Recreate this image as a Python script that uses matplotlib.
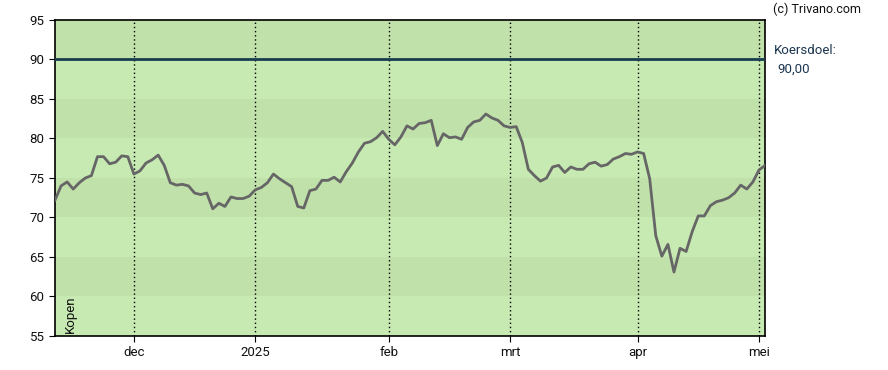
import pandas as pd
import matplotlib
matplotlib.use("Agg")
import matplotlib.pyplot as plt

plt.rcParams["font.family"] = ["Roboto", "DejaVu Sans"]

# trading days (Euronext style, closed on these days)
holidays = ["2024-12-25", "2024-12-26", "2025-01-01", "2025-04-18", "2025-04-21"]
dates = pd.bdate_range("2024-11-13", "2025-05-02", freq="C", holidays=holidays)

# closing prices, one per trading day
prices = [
    72.2, 74.0, 74.5, 73.6, 74.4, 75.0, 75.3, 77.7, 77.7, 76.8,
    77.0, 77.8, 77.7, 75.5, 75.9, 76.9, 77.3, 77.9, 76.6, 74.4,
    74.1, 74.2, 74.0, 73.1, 72.9, 73.1, 71.1, 71.8, 71.4, 72.6,
    72.4, 72.4, 72.7, 73.5, 73.8, 74.4, 75.5, 74.9, 74.4, 73.9,
    71.4, 71.2, 73.4, 73.6, 74.7, 74.7, 75.1, 74.5, 75.8, 76.9,
    78.3, 79.4, 79.6, 80.1, 80.9, 79.9, 79.2, 80.2, 81.6, 81.2,
    81.9, 82.0, 82.3, 79.1, 80.6, 80.1, 80.2, 79.9, 81.4, 82.1,
    82.3, 83.1, 82.6, 82.3, 81.6, 81.4, 81.5, 79.5, 76.1, 75.3,
    74.6, 75.0, 76.4, 76.6, 75.7, 76.4, 76.1, 76.1, 76.8, 77.0,
    76.5, 76.7, 77.4, 77.7, 78.1, 78.0, 78.3, 78.1, 74.9, 67.7,
    65.1, 66.6, 63.1, 66.1, 65.7, 68.2, 70.2, 70.2, 71.5, 72.0,
    72.2, 72.5, 73.1, 74.1, 73.6, 74.5, 76.0, 76.6,
]

target = 90.0
month_names = {12: "dec", 1: "2025", 2: "feb", 3: "mrt", 4: "apr", 5: "mei"}
yticks = [55, 60, 65, 70, 75, 80, 85, 90, 95]

band_dark = "#c0e1aa"
band_light = "#c6eab2"

fig = plt.figure(figsize=(8.88, 3.70), dpi=100)
ax = fig.add_axes([55 / 888, 34 / 370, 710 / 888, 316 / 370])

# alternating horizontal bands
for i, lo in enumerate(range(55, 95, 5)):
    ax.axhspan(lo, lo + 5, color=band_light if i % 2 == 0 else band_dark, lw=0, zorder=0)

# month ticks at first trading day of each month
tick_pos, tick_lab = [], []
for i in range(1, len(dates)):
    if dates[i].month != dates[i - 1].month:
        tick_pos.append(i)
        tick_lab.append(month_names[dates[i].month])

for p in tick_pos:
    ax.axvline(p, color="black", lw=1, ls=(0, (1, 2)), zorder=1)

x = list(range(len(prices)))
ax.plot(x, prices, color="#666666", lw=2, zorder=3)
ax.axhline(target, color="#173d50", lw=2, zorder=4)

ax.set_xlim(0, len(prices) - 1)
ax.set_ylim(55, 95)
ax.set_xticks(tick_pos)
ax.set_xticklabels(tick_lab)
ax.set_yticks(yticks)
ax.tick_params(axis="both", labelsize=9.5, length=4, color="black", labelcolor="#111111")
for s in ax.spines.values():
    s.set_linewidth(1.2)

ax.text(0.012, 0.01, "Kopen", rotation=90, transform=ax.transAxes,
        fontsize=9.5, ha="left", va="bottom", color="#111111")

fig.text(773 / 888, 1 - 9 / 370, "(c) Trivano.com", fontsize=9, va="center", ha="left", color="#111111")
fig.text(774 / 888, 1 - 50 / 370, "Koersdoel:", fontsize=9.5, va="center", ha="left", color="#1c3550")
fig.text(777 / 888, 1 - 69 / 370, "90,00", fontsize=9.5, va="center", ha="left", color="#1c3550")

fig.savefig("out.png", dpi=100)
